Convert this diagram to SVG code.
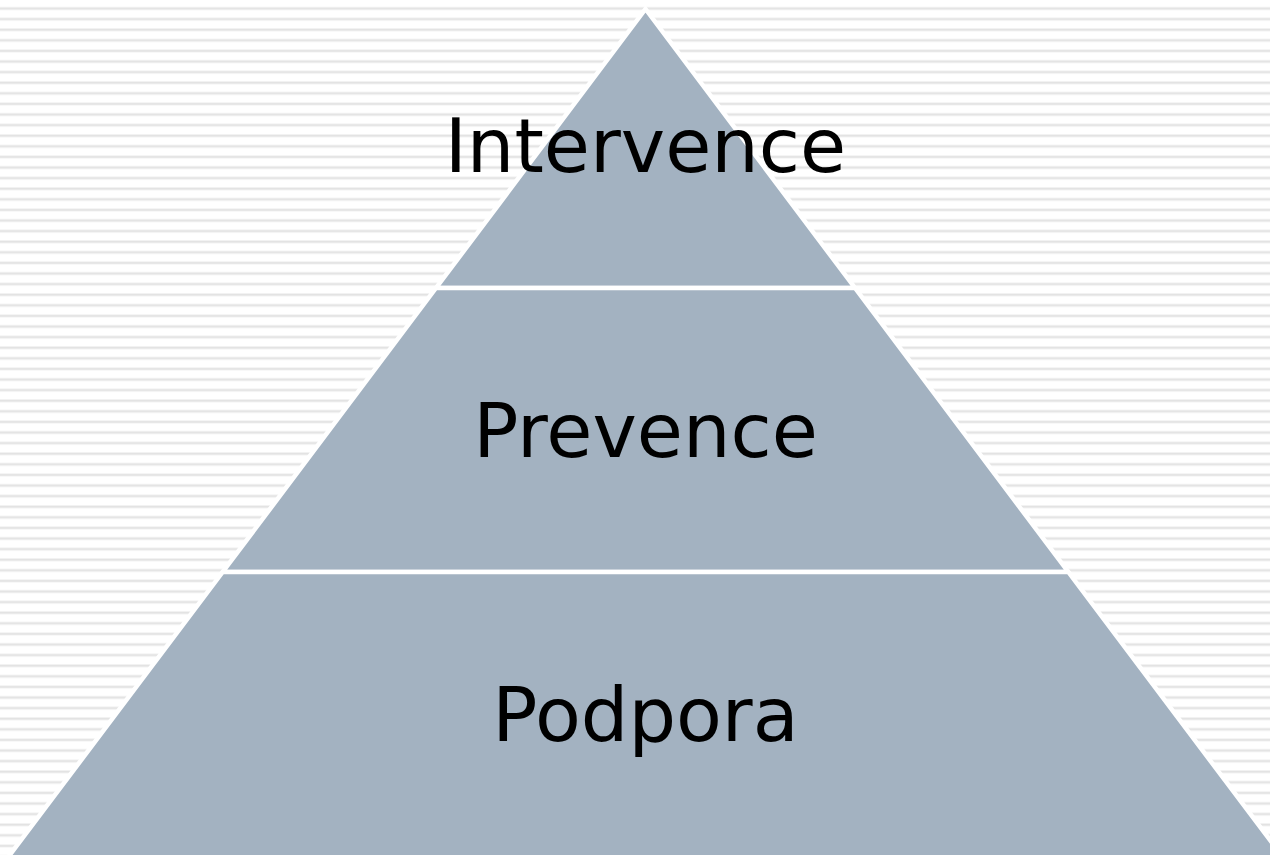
<svg xmlns="http://www.w3.org/2000/svg" width="1270" height="855" viewBox="0 0 1270 855">
<style>
.tier{fill:#A3B2C1;stroke:#FFFFFF;stroke-width:4.5;stroke-linejoin:miter}
.lbl{font-family:"DejaVu Sans",Verdana,sans-serif;font-size:75px;fill:#000000;text-anchor:middle}
</style>
<defs>
<pattern id="stripes" x="0" y="0" width="20" height="10.6" patternUnits="userSpaceOnUse">
<rect x="0" y="0" width="20" height="10.6" fill="#FFFFFF"/>
<rect x="0" y="7" width="20" height="3" fill="#EFEFEF"/>
<rect x="0" y="7.8" width="20" height="1.4" fill="#E2E2E2"/>
</pattern>
</defs>
<rect x="0" y="0" width="1270" height="855" fill="url(#stripes)"/>
<g id="tier-intervence">
<polygon class="tier" points="645.5,9 855,288 436,288"/>
<text class="lbl" x="645.5" y="172">Intervence</text>
</g>
<g id="tier-prevence">
<polygon class="tier" points="436,288 855,288 1068.3,572 222.7,572"/>
<text class="lbl" x="645.5" y="457">Prevence</text>
</g>
<g id="tier-podpora">
<polygon class="tier" points="222.7,572 1068.3,572 1285,860 6,860"/>
<text class="lbl" x="645.5" y="741">Podpora</text>
</g>
<g id="connectors"/>
</svg>
